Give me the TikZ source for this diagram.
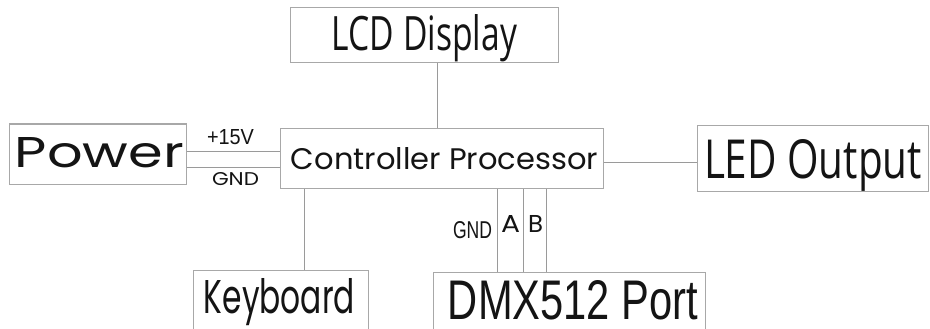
\documentclass[tikz,border=0pt]{standalone}
\usepackage{fontspec}
\usepackage{graphicx}
\newfontfamily\geo{Poppins}
\newfontfamily\hum{Open Sans}
\newfontfamily\cond{Liberation Sans}
\newcommand{\fitt}[3]{\resizebox{#1}{#2}{#3}}
\definecolor{boxc}{HTML}{A8A8A8}
\definecolor{linec}{HTML}{9A9A9A}
\definecolor{ink}{HTML}{141414}
\begin{document}
\begin{tikzpicture}[x=1pt,y=-1pt,
  blk/.style={draw=boxc,line width=1pt,inner sep=0pt,rectangle},
  txt/.style={inner sep=0pt,anchor=base,text=ink},
  wire/.style={draw=linec,line width=0.9pt}]
\useasboundingbox[fill=white] (0,0) rectangle (930,329);
% boxes
\node[blk,minimum width=177pt,minimum height=60pt] (power) at (97.5,154) {};
\node[blk,minimum width=323pt,minimum height=60pt] (ctrl) at (441.5,158) {};
\node[blk,minimum width=268pt,minimum height=55pt] (lcd) at (424,35.5) {};
\node[blk,minimum width=231pt,minimum height=66pt] (led) at (812.5,158) {};
\node[blk,minimum width=175pt,minimum height=70pt] (kb) at (280.5,305) {};
\node[blk,minimum width=272pt,minimum height=68pt] (dmx) at (569,306) {};
% texts
\node[txt] (ptxt) at (99.5,167) {\fitt{169pt}{30pt}{\geo Power}};
\node[txt] (ctxt) at (444.5,169) {\fitt{307pt}{22pt}{\geo Controller Processor}};
\node[txt] (ltxt) at (424.5,51) {\fitt{185pt}{36pt}{\hum LCD Display}};
\node[txt] (otxt) at (813,178) {\fitt{218pt}{39pt}{\hum LED Output}};
\node[txt] (ktxt) at (279.5,313) {\fitt{151pt}{35pt}{\geo Keyboard}};
\node[txt] (dtxt) at (573,319) {\fitt{250pt}{39pt}{\cond DMX512 Port}};
\node[txt] (v15) at (230.5,145) {\fitt{47pt}{15pt}{\cond +15V}};
\node[txt] (pgnd) at (235.5,185) {\fitt{47pt}{13pt}{\geo GND}};
\node[txt] (dgnd) at (472.5,238) {\fitt{39pt}{17pt}{\cond GND}};
\node[txt] (la) at (510.5,233) {\fitt{19pt}{17pt}{\geo A}};
\node[txt] (lb) at (535.5,233) {\fitt{15pt}{17pt}{\geo B}};
% connectors
\draw[wire] ([xshift=13pt]lcd.south) -- ([xshift=13pt]lcd.south |- ctrl.north);
\draw[wire] ([yshift=3pt]power.east) -- ([yshift=3pt]power.east -| ctrl.west);
\draw[wire] ([yshift=-13pt]power.east) -- ([yshift=-13pt]power.east -| ctrl.west);
\draw[wire] ([yshift=-4pt]ctrl.east) -- ([yshift=-4pt]ctrl.east -| led.west);
\draw[wire] ([xshift=23.5pt]kb.north) -- ([xshift=23.5pt]kb.north |- ctrl.south);
\draw[wire] ([xshift=-72pt]dmx.north) -- ([xshift=-72pt]dmx.north |- ctrl.south);
\draw[wire] ([xshift=-46pt]dmx.north) -- ([xshift=-46pt]dmx.north |- ctrl.south);
\draw[wire] ([xshift=-23pt]dmx.north) -- ([xshift=-23pt]dmx.north |- ctrl.south);
\end{tikzpicture}
\end{document}
